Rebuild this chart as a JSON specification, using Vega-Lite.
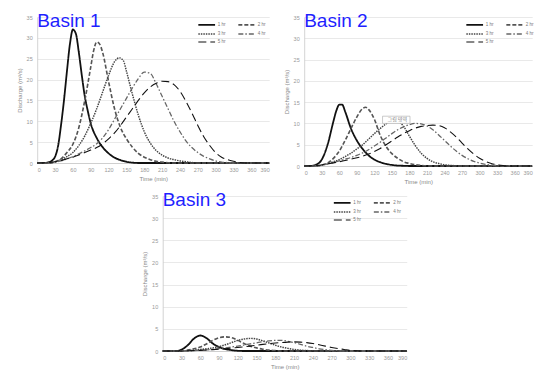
{
"$schema": "https://vega.github.io/schema/vega-lite/v6.json",
"background": "white",
"padding": {"left": 16, "top": 11, "right": 0, "bottom": 0},
"config": {
  "view": {"stroke": null},
  "font": "Liberation Sans",
  "axis": {"labelFontSize": 5.5, "labelColor": "#999999", "titleFontSize": 6, "titleColor": "#888888", "titleFontWeight": "normal", "ticks": false, "gridColor": "#e3e3e3", "gridWidth": 0.8, "domainColor": "#c8c8c8", "domainWidth": 0.8},
  "axisX": {"grid": false, "labelPadding": 4, "titlePadding": 3},
  "axisY": {"labelPadding": 5, "titlePadding": 4},
  "legend": {"orient": "none", "direction": "horizontal", "columns": 2, "symbolType": "M-2,0H2", "symbolSize": 70, "labelFontSize": 4.5, "labelColor": "#777777", "rowPadding": 0, "columnPadding": 8, "labelOffset": 5.5, "symbolStrokeColor": "#222222", "symbolFillColor": "transparent", "padding": 0},
  "title": {"anchor": "start", "fontSize": 19, "font": "Liberation Sans", "fontWeight": "normal", "color": "#1f1fff", "offset": -15.5, "baseline": "alphabetic", "frame": "group"}
},
"datasets": {
  "note": [{"label": "그림 영역", "t": 134, "t2": 181, "q": 10.0, "q2": 11.7}],
  "flow": [
{"b":1,"d":"1 hr","t":0,"q":0},{"b":1,"d":"1 hr","t":10,"q":0},{"b":1,"d":"1 hr","t":20,"q":0.2},{"b":1,"d":"1 hr","t":25,"q":0.6},{"b":1,"d":"1 hr","t":30,"q":1.5},{"b":1,"d":"1 hr","t":35,"q":4},{"b":1,"d":"1 hr","t":40,"q":9},{"b":1,"d":"1 hr","t":45,"q":15},{"b":1,"d":"1 hr","t":50,"q":22},{"b":1,"d":"1 hr","t":55,"q":28.5},{"b":1,"d":"1 hr","t":60,"q":32},{"b":1,"d":"1 hr","t":65,"q":31},{"b":1,"d":"1 hr","t":70,"q":26.5},{"b":1,"d":"1 hr","t":75,"q":21},{"b":1,"d":"1 hr","t":80,"q":16},{"b":1,"d":"1 hr","t":85,"q":12.5},{"b":1,"d":"1 hr","t":90,"q":9.5},{"b":1,"d":"1 hr","t":100,"q":6},{"b":1,"d":"1 hr","t":110,"q":3.8},{"b":1,"d":"1 hr","t":120,"q":2.3},{"b":1,"d":"1 hr","t":130,"q":1.3},{"b":1,"d":"1 hr","t":140,"q":0.7},{"b":1,"d":"1 hr","t":150,"q":0.3},{"b":1,"d":"1 hr","t":160,"q":0.1},{"b":1,"d":"1 hr","t":170,"q":0},{"b":1,"d":"1 hr","t":390,"q":0},
{"b":1,"d":"2 hr","t":0,"q":0},{"b":1,"d":"2 hr","t":20,"q":0},{"b":1,"d":"2 hr","t":30,"q":0.3},{"b":1,"d":"2 hr","t":40,"q":1},{"b":1,"d":"2 hr","t":50,"q":2.5},{"b":1,"d":"2 hr","t":60,"q":4.5},{"b":1,"d":"2 hr","t":70,"q":8.5},{"b":1,"d":"2 hr","t":80,"q":15},{"b":1,"d":"2 hr","t":90,"q":23},{"b":1,"d":"2 hr","t":95,"q":27},{"b":1,"d":"2 hr","t":100,"q":29},{"b":1,"d":"2 hr","t":105,"q":28.5},{"b":1,"d":"2 hr","t":110,"q":26.5},{"b":1,"d":"2 hr","t":120,"q":19.5},{"b":1,"d":"2 hr","t":130,"q":13},{"b":1,"d":"2 hr","t":140,"q":8.5},{"b":1,"d":"2 hr","t":150,"q":5.8},{"b":1,"d":"2 hr","t":160,"q":3.8},{"b":1,"d":"2 hr","t":170,"q":2.3},{"b":1,"d":"2 hr","t":180,"q":1.4},{"b":1,"d":"2 hr","t":190,"q":0.8},{"b":1,"d":"2 hr","t":200,"q":0.4},{"b":1,"d":"2 hr","t":210,"q":0.2},{"b":1,"d":"2 hr","t":220,"q":0.05},{"b":1,"d":"2 hr","t":230,"q":0},{"b":1,"d":"2 hr","t":390,"q":0},
{"b":1,"d":"3 hr","t":0,"q":0},{"b":1,"d":"3 hr","t":20,"q":0},{"b":1,"d":"3 hr","t":30,"q":0.3},{"b":1,"d":"3 hr","t":40,"q":0.8},{"b":1,"d":"3 hr","t":50,"q":1.5},{"b":1,"d":"3 hr","t":60,"q":2.5},{"b":1,"d":"3 hr","t":70,"q":4.2},{"b":1,"d":"3 hr","t":80,"q":6.5},{"b":1,"d":"3 hr","t":90,"q":9.5},{"b":1,"d":"3 hr","t":100,"q":13},{"b":1,"d":"3 hr","t":110,"q":17},{"b":1,"d":"3 hr","t":120,"q":21},{"b":1,"d":"3 hr","t":130,"q":24.3},{"b":1,"d":"3 hr","t":138,"q":25.2},{"b":1,"d":"3 hr","t":145,"q":24.5},{"b":1,"d":"3 hr","t":150,"q":22},{"b":1,"d":"3 hr","t":160,"q":16.5},{"b":1,"d":"3 hr","t":170,"q":11.5},{"b":1,"d":"3 hr","t":180,"q":7.5},{"b":1,"d":"3 hr","t":190,"q":4.8},{"b":1,"d":"3 hr","t":200,"q":3},{"b":1,"d":"3 hr","t":210,"q":1.9},{"b":1,"d":"3 hr","t":220,"q":1.2},{"b":1,"d":"3 hr","t":230,"q":0.8},{"b":1,"d":"3 hr","t":240,"q":0.5},{"b":1,"d":"3 hr","t":250,"q":0.3},{"b":1,"d":"3 hr","t":260,"q":0.1},{"b":1,"d":"3 hr","t":270,"q":0},{"b":1,"d":"3 hr","t":390,"q":0},
{"b":1,"d":"4 hr","t":0,"q":0},{"b":1,"d":"4 hr","t":20,"q":0},{"b":1,"d":"4 hr","t":30,"q":0.2},{"b":1,"d":"4 hr","t":40,"q":0.5},{"b":1,"d":"4 hr","t":50,"q":1},{"b":1,"d":"4 hr","t":60,"q":1.5},{"b":1,"d":"4 hr","t":70,"q":2.2},{"b":1,"d":"4 hr","t":80,"q":2.9},{"b":1,"d":"4 hr","t":90,"q":3.7},{"b":1,"d":"4 hr","t":100,"q":4.6},{"b":1,"d":"4 hr","t":110,"q":6},{"b":1,"d":"4 hr","t":120,"q":8},{"b":1,"d":"4 hr","t":130,"q":10.5},{"b":1,"d":"4 hr","t":140,"q":13},{"b":1,"d":"4 hr","t":150,"q":15.5},{"b":1,"d":"4 hr","t":160,"q":18},{"b":1,"d":"4 hr","t":170,"q":20.2},{"b":1,"d":"4 hr","t":180,"q":21.8},{"b":1,"d":"4 hr","t":190,"q":21.5},{"b":1,"d":"4 hr","t":200,"q":19},{"b":1,"d":"4 hr","t":210,"q":16},{"b":1,"d":"4 hr","t":220,"q":13},{"b":1,"d":"4 hr","t":230,"q":10},{"b":1,"d":"4 hr","t":240,"q":7.5},{"b":1,"d":"4 hr","t":250,"q":5.3},{"b":1,"d":"4 hr","t":260,"q":3.7},{"b":1,"d":"4 hr","t":270,"q":2.5},{"b":1,"d":"4 hr","t":280,"q":1.6},{"b":1,"d":"4 hr","t":290,"q":1},{"b":1,"d":"4 hr","t":300,"q":0.5},{"b":1,"d":"4 hr","t":310,"q":0.2},{"b":1,"d":"4 hr","t":320,"q":0.1},{"b":1,"d":"4 hr","t":330,"q":0},{"b":1,"d":"4 hr","t":390,"q":0},
{"b":1,"d":"5 hr","t":0,"q":0},{"b":1,"d":"5 hr","t":20,"q":0.1},{"b":1,"d":"5 hr","t":30,"q":0.3},{"b":1,"d":"5 hr","t":40,"q":0.6},{"b":1,"d":"5 hr","t":50,"q":1},{"b":1,"d":"5 hr","t":60,"q":1.4},{"b":1,"d":"5 hr","t":70,"q":1.9},{"b":1,"d":"5 hr","t":80,"q":2.5},{"b":1,"d":"5 hr","t":90,"q":3.1},{"b":1,"d":"5 hr","t":100,"q":3.7},{"b":1,"d":"5 hr","t":110,"q":4.6},{"b":1,"d":"5 hr","t":120,"q":5.8},{"b":1,"d":"5 hr","t":130,"q":7.2},{"b":1,"d":"5 hr","t":140,"q":9},{"b":1,"d":"5 hr","t":150,"q":11},{"b":1,"d":"5 hr","t":160,"q":13},{"b":1,"d":"5 hr","t":170,"q":15},{"b":1,"d":"5 hr","t":180,"q":16.8},{"b":1,"d":"5 hr","t":190,"q":18.2},{"b":1,"d":"5 hr","t":200,"q":19.1},{"b":1,"d":"5 hr","t":210,"q":19.6},{"b":1,"d":"5 hr","t":220,"q":19.5},{"b":1,"d":"5 hr","t":230,"q":18.8},{"b":1,"d":"5 hr","t":240,"q":17.2},{"b":1,"d":"5 hr","t":250,"q":14.8},{"b":1,"d":"5 hr","t":260,"q":12},{"b":1,"d":"5 hr","t":270,"q":9},{"b":1,"d":"5 hr","t":280,"q":6.3},{"b":1,"d":"5 hr","t":290,"q":4.2},{"b":1,"d":"5 hr","t":300,"q":2.5},{"b":1,"d":"5 hr","t":310,"q":1.4},{"b":1,"d":"5 hr","t":320,"q":0.8},{"b":1,"d":"5 hr","t":330,"q":0.4},{"b":1,"d":"5 hr","t":340,"q":0.1},{"b":1,"d":"5 hr","t":350,"q":0},{"b":1,"d":"5 hr","t":390,"q":0},
{"b":2,"d":"1 hr","t":0,"q":0},{"b":2,"d":"1 hr","t":10,"q":0},{"b":2,"d":"1 hr","t":20,"q":0.3},{"b":2,"d":"1 hr","t":30,"q":1.5},{"b":2,"d":"1 hr","t":40,"q":5},{"b":2,"d":"1 hr","t":50,"q":10.5},{"b":2,"d":"1 hr","t":55,"q":13},{"b":2,"d":"1 hr","t":60,"q":14.4},{"b":2,"d":"1 hr","t":65,"q":14.4},{"b":2,"d":"1 hr","t":70,"q":12.8},{"b":2,"d":"1 hr","t":80,"q":8.8},{"b":2,"d":"1 hr","t":90,"q":6},{"b":2,"d":"1 hr","t":100,"q":4},{"b":2,"d":"1 hr","t":110,"q":2.5},{"b":2,"d":"1 hr","t":120,"q":1.5},{"b":2,"d":"1 hr","t":130,"q":0.9},{"b":2,"d":"1 hr","t":140,"q":0.5},{"b":2,"d":"1 hr","t":150,"q":0.25},{"b":2,"d":"1 hr","t":160,"q":0.1},{"b":2,"d":"1 hr","t":170,"q":0.05},{"b":2,"d":"1 hr","t":180,"q":0},{"b":2,"d":"1 hr","t":390,"q":0},
{"b":2,"d":"2 hr","t":0,"q":0},{"b":2,"d":"2 hr","t":20,"q":0},{"b":2,"d":"2 hr","t":30,"q":0.2},{"b":2,"d":"2 hr","t":40,"q":0.7},{"b":2,"d":"2 hr","t":50,"q":1.8},{"b":2,"d":"2 hr","t":60,"q":3.5},{"b":2,"d":"2 hr","t":70,"q":6},{"b":2,"d":"2 hr","t":80,"q":8.8},{"b":2,"d":"2 hr","t":90,"q":11.5},{"b":2,"d":"2 hr","t":100,"q":13.5},{"b":2,"d":"2 hr","t":105,"q":13.8},{"b":2,"d":"2 hr","t":110,"q":13.3},{"b":2,"d":"2 hr","t":120,"q":11},{"b":2,"d":"2 hr","t":130,"q":7.2},{"b":2,"d":"2 hr","t":140,"q":4.6},{"b":2,"d":"2 hr","t":150,"q":2.9},{"b":2,"d":"2 hr","t":160,"q":1.8},{"b":2,"d":"2 hr","t":170,"q":1},{"b":2,"d":"2 hr","t":180,"q":0.6},{"b":2,"d":"2 hr","t":190,"q":0.3},{"b":2,"d":"2 hr","t":200,"q":0.15},{"b":2,"d":"2 hr","t":210,"q":0.05},{"b":2,"d":"2 hr","t":220,"q":0},{"b":2,"d":"2 hr","t":390,"q":0},
{"b":2,"d":"3 hr","t":0,"q":0},{"b":2,"d":"3 hr","t":20,"q":0},{"b":2,"d":"3 hr","t":30,"q":0.2},{"b":2,"d":"3 hr","t":40,"q":0.5},{"b":2,"d":"3 hr","t":50,"q":1},{"b":2,"d":"3 hr","t":60,"q":1.5},{"b":2,"d":"3 hr","t":70,"q":2.2},{"b":2,"d":"3 hr","t":80,"q":3},{"b":2,"d":"3 hr","t":90,"q":4},{"b":2,"d":"3 hr","t":100,"q":5},{"b":2,"d":"3 hr","t":110,"q":6.3},{"b":2,"d":"3 hr","t":120,"q":7.6},{"b":2,"d":"3 hr","t":130,"q":8.8},{"b":2,"d":"3 hr","t":140,"q":9.9},{"b":2,"d":"3 hr","t":150,"q":10.6},{"b":2,"d":"3 hr","t":160,"q":10.5},{"b":2,"d":"3 hr","t":170,"q":9.3},{"b":2,"d":"3 hr","t":180,"q":7},{"b":2,"d":"3 hr","t":190,"q":4.8},{"b":2,"d":"3 hr","t":200,"q":3},{"b":2,"d":"3 hr","t":210,"q":1.8},{"b":2,"d":"3 hr","t":220,"q":1},{"b":2,"d":"3 hr","t":230,"q":0.6},{"b":2,"d":"3 hr","t":240,"q":0.3},{"b":2,"d":"3 hr","t":250,"q":0.15},{"b":2,"d":"3 hr","t":260,"q":0.05},{"b":2,"d":"3 hr","t":270,"q":0},{"b":2,"d":"3 hr","t":390,"q":0},
{"b":2,"d":"4 hr","t":0,"q":0},{"b":2,"d":"4 hr","t":20,"q":0},{"b":2,"d":"4 hr","t":30,"q":0.2},{"b":2,"d":"4 hr","t":40,"q":0.5},{"b":2,"d":"4 hr","t":50,"q":0.8},{"b":2,"d":"4 hr","t":60,"q":1.2},{"b":2,"d":"4 hr","t":70,"q":1.6},{"b":2,"d":"4 hr","t":80,"q":2},{"b":2,"d":"4 hr","t":90,"q":2.5},{"b":2,"d":"4 hr","t":100,"q":3.1},{"b":2,"d":"4 hr","t":110,"q":3.8},{"b":2,"d":"4 hr","t":120,"q":4.7},{"b":2,"d":"4 hr","t":130,"q":5.6},{"b":2,"d":"4 hr","t":140,"q":6.6},{"b":2,"d":"4 hr","t":150,"q":7.6},{"b":2,"d":"4 hr","t":160,"q":8.5},{"b":2,"d":"4 hr","t":170,"q":9.2},{"b":2,"d":"4 hr","t":180,"q":9.7},{"b":2,"d":"4 hr","t":190,"q":10},{"b":2,"d":"4 hr","t":200,"q":9.9},{"b":2,"d":"4 hr","t":210,"q":9.4},{"b":2,"d":"4 hr","t":220,"q":8.5},{"b":2,"d":"4 hr","t":230,"q":7.3},{"b":2,"d":"4 hr","t":240,"q":6},{"b":2,"d":"4 hr","t":250,"q":4.7},{"b":2,"d":"4 hr","t":260,"q":3.5},{"b":2,"d":"4 hr","t":270,"q":2.5},{"b":2,"d":"4 hr","t":280,"q":1.7},{"b":2,"d":"4 hr","t":290,"q":1.1},{"b":2,"d":"4 hr","t":300,"q":0.7},{"b":2,"d":"4 hr","t":310,"q":0.4},{"b":2,"d":"4 hr","t":320,"q":0.2},{"b":2,"d":"4 hr","t":340,"q":0.1},{"b":2,"d":"4 hr","t":360,"q":0.05},{"b":2,"d":"4 hr","t":370,"q":0},{"b":2,"d":"4 hr","t":390,"q":0},
{"b":2,"d":"5 hr","t":0,"q":0},{"b":2,"d":"5 hr","t":20,"q":0.1},{"b":2,"d":"5 hr","t":40,"q":0.5},{"b":2,"d":"5 hr","t":60,"q":1},{"b":2,"d":"5 hr","t":80,"q":1.6},{"b":2,"d":"5 hr","t":100,"q":2.3},{"b":2,"d":"5 hr","t":110,"q":2.8},{"b":2,"d":"5 hr","t":120,"q":3.4},{"b":2,"d":"5 hr","t":130,"q":4.1},{"b":2,"d":"5 hr","t":140,"q":5},{"b":2,"d":"5 hr","t":150,"q":5.9},{"b":2,"d":"5 hr","t":160,"q":6.8},{"b":2,"d":"5 hr","t":170,"q":7.6},{"b":2,"d":"5 hr","t":180,"q":8.3},{"b":2,"d":"5 hr","t":190,"q":8.9},{"b":2,"d":"5 hr","t":200,"q":9.3},{"b":2,"d":"5 hr","t":210,"q":9.5},{"b":2,"d":"5 hr","t":220,"q":9.6},{"b":2,"d":"5 hr","t":230,"q":9.5},{"b":2,"d":"5 hr","t":240,"q":9},{"b":2,"d":"5 hr","t":250,"q":8},{"b":2,"d":"5 hr","t":260,"q":6.8},{"b":2,"d":"5 hr","t":270,"q":5.4},{"b":2,"d":"5 hr","t":280,"q":4},{"b":2,"d":"5 hr","t":290,"q":2.8},{"b":2,"d":"5 hr","t":300,"q":1.8},{"b":2,"d":"5 hr","t":310,"q":1.1},{"b":2,"d":"5 hr","t":320,"q":0.6},{"b":2,"d":"5 hr","t":330,"q":0.3},{"b":2,"d":"5 hr","t":340,"q":0.1},{"b":2,"d":"5 hr","t":350,"q":0},{"b":2,"d":"5 hr","t":390,"q":0},
{"b":3,"d":"1 hr","t":0,"q":0},{"b":3,"d":"1 hr","t":20,"q":0},{"b":3,"d":"1 hr","t":25,"q":0.05},{"b":3,"d":"1 hr","t":30,"q":0.3},{"b":3,"d":"1 hr","t":40,"q":1.3},{"b":3,"d":"1 hr","t":50,"q":2.8},{"b":3,"d":"1 hr","t":60,"q":3.5},{"b":3,"d":"1 hr","t":70,"q":2.9},{"b":3,"d":"1 hr","t":80,"q":1.7},{"b":3,"d":"1 hr","t":90,"q":0.9},{"b":3,"d":"1 hr","t":100,"q":0.45},{"b":3,"d":"1 hr","t":110,"q":0.2},{"b":3,"d":"1 hr","t":120,"q":0.05},{"b":3,"d":"1 hr","t":130,"q":0},{"b":3,"d":"1 hr","t":390,"q":0},
{"b":3,"d":"2 hr","t":0,"q":0},{"b":3,"d":"2 hr","t":30,"q":0},{"b":3,"d":"2 hr","t":40,"q":0.2},{"b":3,"d":"2 hr","t":50,"q":0.5},{"b":3,"d":"2 hr","t":60,"q":0.9},{"b":3,"d":"2 hr","t":70,"q":1.6},{"b":3,"d":"2 hr","t":80,"q":2.4},{"b":3,"d":"2 hr","t":90,"q":3},{"b":3,"d":"2 hr","t":100,"q":3.2},{"b":3,"d":"2 hr","t":110,"q":3},{"b":3,"d":"2 hr","t":120,"q":2.4},{"b":3,"d":"2 hr","t":130,"q":1.7},{"b":3,"d":"2 hr","t":140,"q":1.1},{"b":3,"d":"2 hr","t":150,"q":0.7},{"b":3,"d":"2 hr","t":160,"q":0.4},{"b":3,"d":"2 hr","t":170,"q":0.2},{"b":3,"d":"2 hr","t":180,"q":0.1},{"b":3,"d":"2 hr","t":190,"q":0},{"b":3,"d":"2 hr","t":390,"q":0},
{"b":3,"d":"3 hr","t":0,"q":0},{"b":3,"d":"3 hr","t":30,"q":0},{"b":3,"d":"3 hr","t":40,"q":0.1},{"b":3,"d":"3 hr","t":50,"q":0.2},{"b":3,"d":"3 hr","t":60,"q":0.35},{"b":3,"d":"3 hr","t":70,"q":0.5},{"b":3,"d":"3 hr","t":80,"q":0.7},{"b":3,"d":"3 hr","t":90,"q":1},{"b":3,"d":"3 hr","t":100,"q":1.4},{"b":3,"d":"3 hr","t":110,"q":1.9},{"b":3,"d":"3 hr","t":120,"q":2.4},{"b":3,"d":"3 hr","t":130,"q":2.7},{"b":3,"d":"3 hr","t":140,"q":2.85},{"b":3,"d":"3 hr","t":150,"q":2.7},{"b":3,"d":"3 hr","t":160,"q":2.3},{"b":3,"d":"3 hr","t":170,"q":1.8},{"b":3,"d":"3 hr","t":180,"q":1.3},{"b":3,"d":"3 hr","t":190,"q":0.9},{"b":3,"d":"3 hr","t":200,"q":0.6},{"b":3,"d":"3 hr","t":210,"q":0.35},{"b":3,"d":"3 hr","t":220,"q":0.2},{"b":3,"d":"3 hr","t":230,"q":0.1},{"b":3,"d":"3 hr","t":240,"q":0.05},{"b":3,"d":"3 hr","t":250,"q":0},{"b":3,"d":"3 hr","t":390,"q":0},
{"b":3,"d":"4 hr","t":0,"q":0},{"b":3,"d":"4 hr","t":40,"q":0},{"b":3,"d":"4 hr","t":50,"q":0.1},{"b":3,"d":"4 hr","t":60,"q":0.15},{"b":3,"d":"4 hr","t":70,"q":0.25},{"b":3,"d":"4 hr","t":80,"q":0.4},{"b":3,"d":"4 hr","t":90,"q":0.55},{"b":3,"d":"4 hr","t":100,"q":0.7},{"b":3,"d":"4 hr","t":110,"q":0.9},{"b":3,"d":"4 hr","t":120,"q":1.1},{"b":3,"d":"4 hr","t":130,"q":1.35},{"b":3,"d":"4 hr","t":140,"q":1.6},{"b":3,"d":"4 hr","t":150,"q":1.85},{"b":3,"d":"4 hr","t":160,"q":2.1},{"b":3,"d":"4 hr","t":170,"q":2.3},{"b":3,"d":"4 hr","t":180,"q":2.4},{"b":3,"d":"4 hr","t":190,"q":2.4},{"b":3,"d":"4 hr","t":200,"q":2.2},{"b":3,"d":"4 hr","t":210,"q":1.9},{"b":3,"d":"4 hr","t":220,"q":1.5},{"b":3,"d":"4 hr","t":230,"q":1.1},{"b":3,"d":"4 hr","t":240,"q":0.8},{"b":3,"d":"4 hr","t":250,"q":0.5},{"b":3,"d":"4 hr","t":260,"q":0.3},{"b":3,"d":"4 hr","t":270,"q":0.15},{"b":3,"d":"4 hr","t":280,"q":0.05},{"b":3,"d":"4 hr","t":290,"q":0},{"b":3,"d":"4 hr","t":390,"q":0},
{"b":3,"d":"5 hr","t":0,"q":0},{"b":3,"d":"5 hr","t":30,"q":0},{"b":3,"d":"5 hr","t":40,"q":0.05},{"b":3,"d":"5 hr","t":60,"q":0.15},{"b":3,"d":"5 hr","t":80,"q":0.3},{"b":3,"d":"5 hr","t":100,"q":0.5},{"b":3,"d":"5 hr","t":120,"q":0.8},{"b":3,"d":"5 hr","t":140,"q":1.1},{"b":3,"d":"5 hr","t":160,"q":1.5},{"b":3,"d":"5 hr","t":180,"q":1.8},{"b":3,"d":"5 hr","t":200,"q":2},{"b":3,"d":"5 hr","t":210,"q":2.05},{"b":3,"d":"5 hr","t":220,"q":2},{"b":3,"d":"5 hr","t":230,"q":1.9},{"b":3,"d":"5 hr","t":240,"q":1.7},{"b":3,"d":"5 hr","t":250,"q":1.4},{"b":3,"d":"5 hr","t":260,"q":1.1},{"b":3,"d":"5 hr","t":270,"q":0.8},{"b":3,"d":"5 hr","t":280,"q":0.55},{"b":3,"d":"5 hr","t":290,"q":0.35},{"b":3,"d":"5 hr","t":300,"q":0.15},{"b":3,"d":"5 hr","t":310,"q":0.05},{"b":3,"d":"5 hr","t":320,"q":0},{"b":3,"d":"5 hr","t":390,"q":0}
  ]
},
"spacing": 5,
"center": true,
"vconcat": [
  {
    "spacing": 9,
    "resolve": {"scale": {"strokeDash": "independent", "strokeWidth": "independent", "color": "independent"}, "legend": {"strokeDash": "independent", "strokeWidth": "independent", "color": "independent"}},
    "hconcat": [
      {
        "width": 232, "height": 146,
        "title": {"text": "Basin 1"},
        "data": {"name": "flow"},
        "transform": [{"filter": "datum.b === 1"}],
        "mark": {"type": "line", "interpolate": "monotone"},
        "encoding": {
          "x": {"field": "t", "type": "quantitative", "scale": {"domain": [0, 390], "nice": false}, "axis": {"values": [0,30,60,90,120,150,180,210,240,270,300,330,360,390], "title": "Time (min)"}},
          "y": {"field": "q", "type": "quantitative", "scale": {"domain": [0, 35], "nice": false}, "axis": {"values": [0,5,10,15,20,25,30,35], "title": "Discharge (m³/s)"}},
          "strokeDash": {"field": "d", "type": "nominal", "scale": {"domain": ["1 hr","2 hr","3 hr","4 hr","5 hr"], "range": [[1,0],[4,2],[1.5,1],[5,2,1.5,2],[8,4]]}, "legend": {"title": null, "legendX": 164, "legendY": 2}},
          "strokeWidth": {"field": "d", "type": "nominal", "scale": {"domain": ["1 hr","2 hr","3 hr","4 hr","5 hr"], "range": [1.8,1.1,1.3,0.9,2]}, "legend": {"title": null, "legendX": 164, "legendY": 2}},
          "color": {"field": "d", "type": "nominal", "scale": {"domain": ["1 hr","2 hr","3 hr","4 hr","5 hr"], "range": ["#111111","#555555","#444444","#666666","#111111"]}, "legend": {"title": null, "legendX": 164, "legendY": 2}}
        }
      },
      {
        "width": 228, "height": 149,
        "title": {"text": "Basin 2"},
        "encoding": {
          "x": {"field": "t", "type": "quantitative", "scale": {"domain": [0, 390], "nice": false}, "axis": {"values": [0,30,60,90,120,150,180,210,240,270,300,330,360,390], "title": "Time (min)"}},
          "y": {"field": "q", "type": "quantitative", "scale": {"domain": [0, 35], "nice": false}, "axis": {"values": [0,5,10,15,20,25,30,35], "title": "Discharge (m³/s)"}}
        },
        "layer": [
          {
            "data": {"name": "flow"},
            "transform": [{"filter": "datum.b === 2"}],
            "mark": {"type": "line", "interpolate": "monotone"},
            "encoding": {
              "strokeDash": {"field": "d", "type": "nominal", "scale": {"domain": ["1 hr","2 hr","3 hr","4 hr","5 hr"], "range": [[1,0],[4,2],[1.5,1],[5,2,1.5,2],[8,4]]}, "legend": {"title": null, "legendX": 165, "legendY": 2}},
              "strokeWidth": {"field": "d", "type": "nominal", "scale": {"domain": ["1 hr","2 hr","3 hr","4 hr","5 hr"], "range": [1.8,1.1,1.3,0.9,2]}, "legend": {"title": null, "legendX": 165, "legendY": 2}},
              "color": {"field": "d", "type": "nominal", "scale": {"domain": ["1 hr","2 hr","3 hr","4 hr","5 hr"], "range": ["#111111","#555555","#444444","#666666","#111111"]}, "legend": {"title": null, "legendX": 165, "legendY": 2}}
            }
          },
          {
            "data": {"name": "note"},
            "mark": {"type": "rect", "fill": "white", "stroke": "#aaaaaa", "strokeWidth": 0.6},
            "encoding": {
              "x2": {"field": "t2"},
              "y2": {"field": "q2"}
            }
          },
          {
            "data": {"name": "note"},
            "mark": {"type": "text", "font": "Noto Sans CJK KR", "fontSize": 5, "color": "#777777", "align": "left", "baseline": "bottom", "dx": 5, "dy": -1},
            "encoding": {
              "text": {"field": "label"}
            }
          }
        ]
      }
    ]
  },
  {
    "width": 244, "height": 155,
    "title": {"text": "Basin 3"},
    "data": {"name": "flow"},
    "transform": [{"filter": "datum.b === 3"}],
    "mark": {"type": "line", "interpolate": "monotone"},
    "encoding": {
      "x": {"field": "t", "type": "quantitative", "scale": {"domain": [0, 390], "nice": false}, "axis": {"values": [0,30,60,90,120,150,180,210,240,270,300,330,360,390], "title": "Time (min)"}},
      "y": {"field": "q", "type": "quantitative", "scale": {"domain": [0, 35], "nice": false}, "axis": {"values": [0,5,10,15,20,25,30,35], "title": "Discharge (m³/s)"}},
      "strokeDash": {"field": "d", "type": "nominal", "scale": {"domain": ["1 hr","2 hr","3 hr","4 hr","5 hr"], "range": [[1,0],[4,2],[1.5,1],[5,2,1.5,2],[8,4]]}, "legend": {"title": null, "legendX": 174, "legendY": 1}},
      "strokeWidth": {"field": "d", "type": "nominal", "scale": {"domain": ["1 hr","2 hr","3 hr","4 hr","5 hr"], "range": [1.8,1.1,1.3,0.9,2]}, "legend": {"title": null, "legendX": 174, "legendY": 1}},
      "color": {"field": "d", "type": "nominal", "scale": {"domain": ["1 hr","2 hr","3 hr","4 hr","5 hr"], "range": ["#111111","#555555","#444444","#666666","#111111"]}, "legend": {"title": null, "legendX": 174, "legendY": 1}}
    }
  }
],
"resolve": {"scale": {"strokeDash": "independent", "strokeWidth": "independent", "color": "independent"}, "legend": {"strokeDash": "independent", "strokeWidth": "independent", "color": "independent"}}
}
